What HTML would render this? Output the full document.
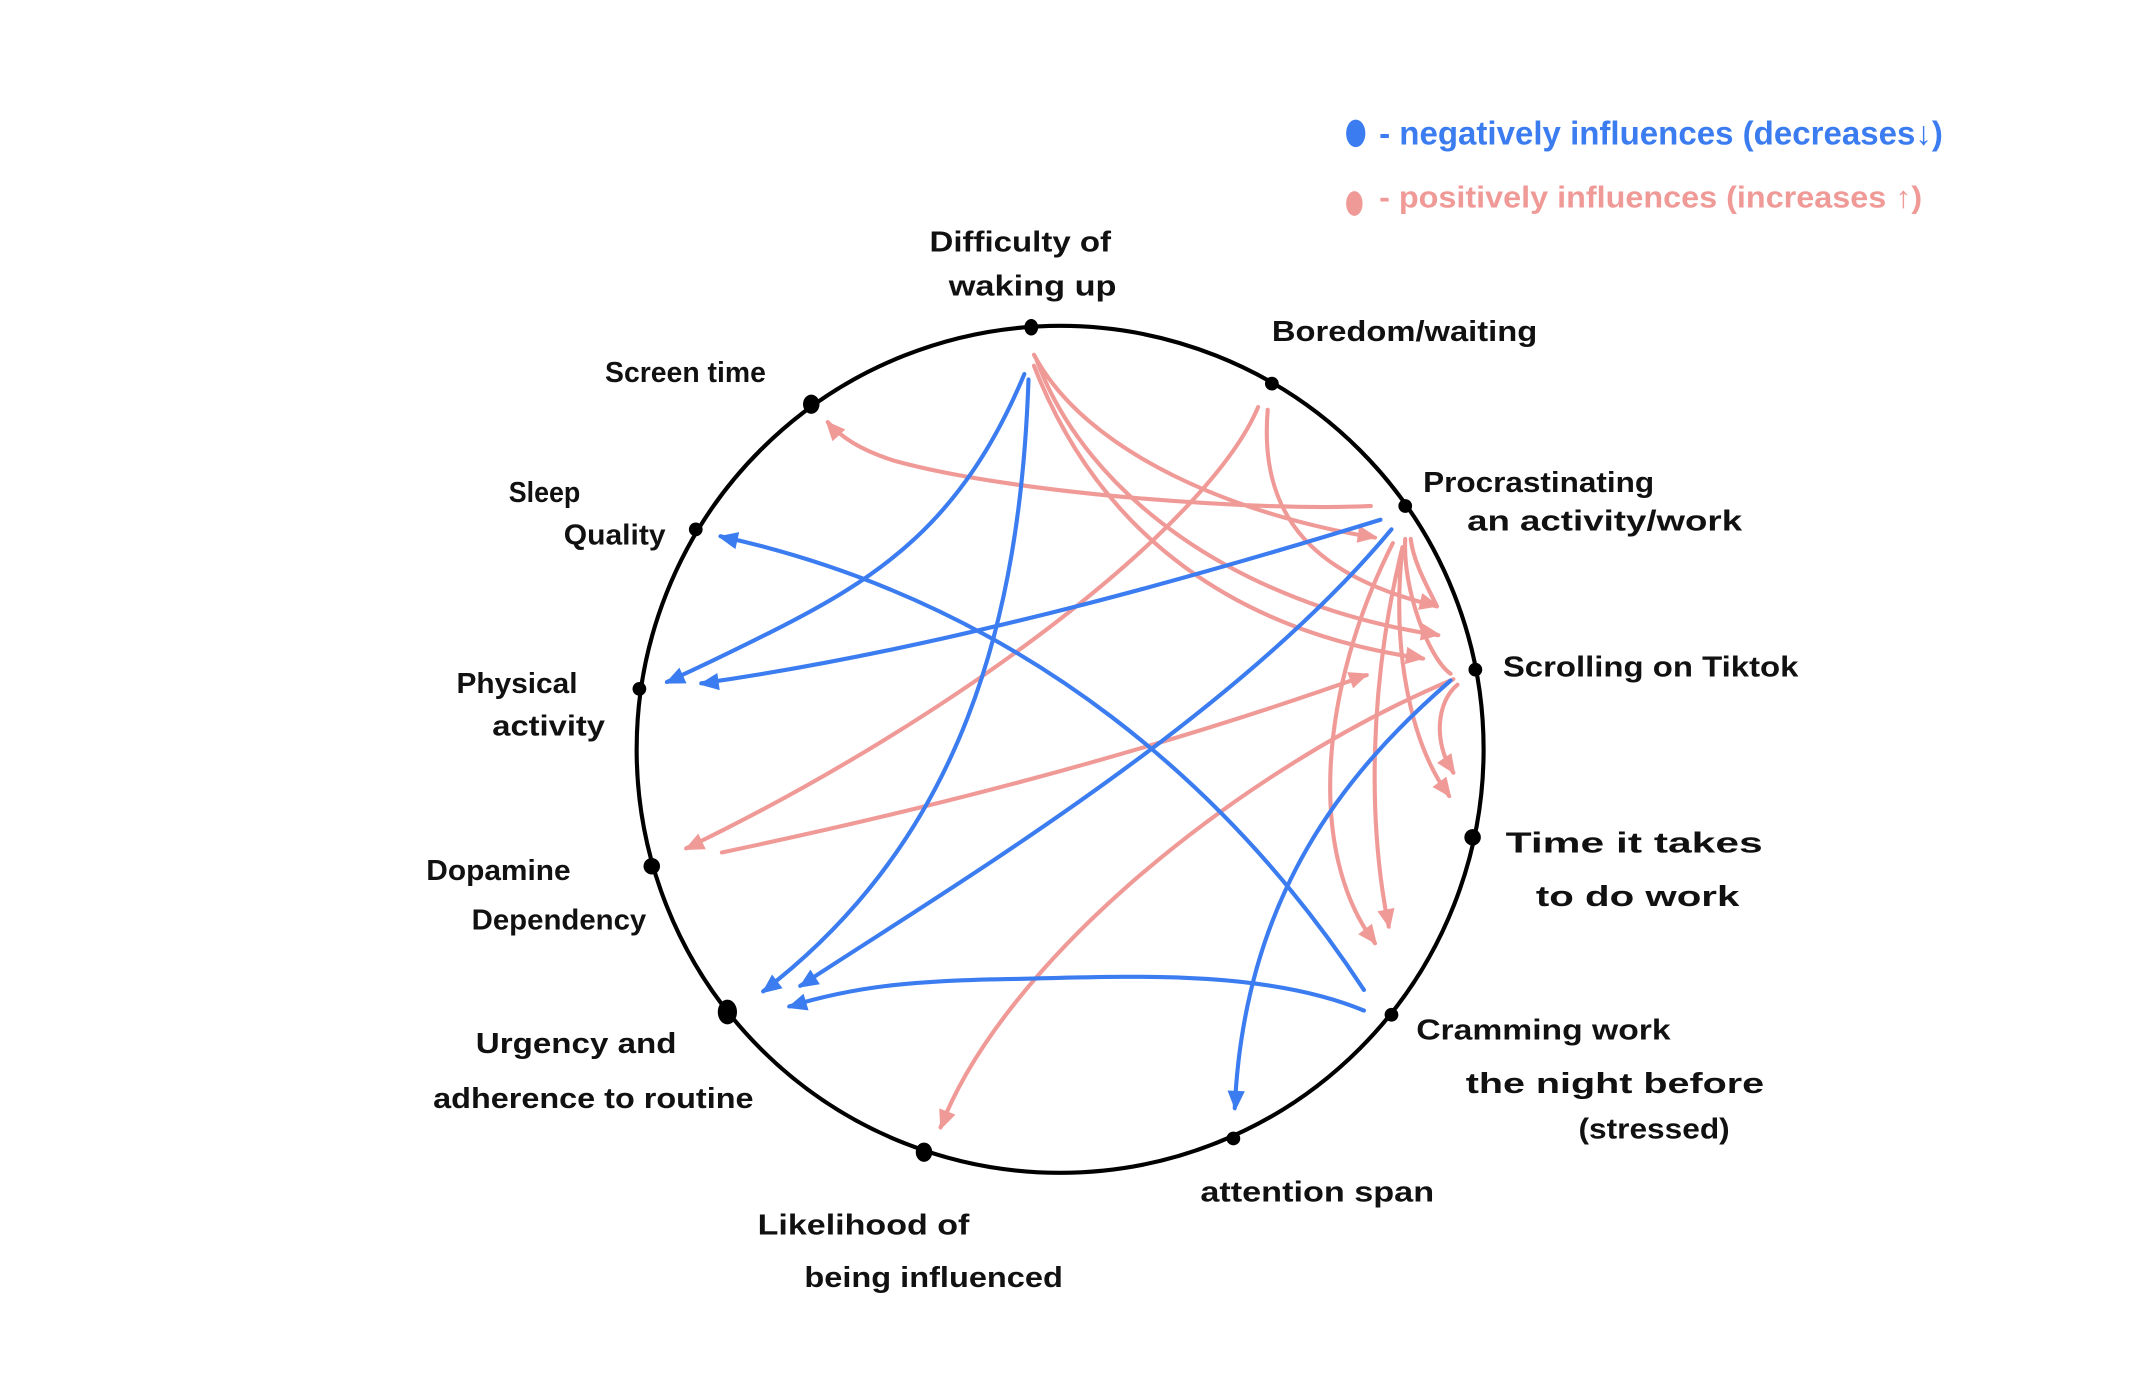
<!DOCTYPE html>
<html><head><meta charset="utf-8"><style>
html,body{margin:0;padding:0;background:#fff;}
svg{display:block;}
text{font-family:"Liberation Sans",sans-serif;font-weight:bold;fill:#111;}
</style></head><body>
<svg width="2156" height="1388" viewBox="0 0 1568 1009.5" xmlns="http://www.w3.org/2000/svg">
<defs>
<marker id="ab" viewBox="0 0 10 10" refX="9" refY="5" markerWidth="10" markerHeight="10" orient="auto" markerUnits="userSpaceOnUse" style="overflow:visible">
<path d="M-4,-2 L12,5 L-4,12 Z" fill="#3b7cf0" transform="scale(0.9)"/></marker>
<marker id="ap" viewBox="0 0 10 10" refX="9" refY="5" markerWidth="10" markerHeight="10" orient="auto" markerUnits="userSpaceOnUse" style="overflow:visible">
<path d="M-4,-2 L12,5 L-4,12 Z" fill="#f09a98" transform="scale(0.9)"/></marker>
</defs>
<circle cx="771" cy="545" r="308" fill="none" stroke="#000" stroke-width="3"/>
<g fill="#000">
<ellipse cx="750" cy="238" rx="5" ry="6"/>
<circle cx="925" cy="279" r="5"/>
<circle cx="1022" cy="368" r="5"/>
<circle cx="1073" cy="487" r="5"/>
<circle cx="1071" cy="609" r="6"/>
<circle cx="1012" cy="738" r="5"/>
<circle cx="897" cy="828" r="5"/>
<ellipse cx="672" cy="838" rx="6" ry="7"/>
<ellipse cx="529" cy="736" rx="7" ry="9"/>
<circle cx="474" cy="630" r="6"/>
<circle cx="465" cy="501" r="5"/>
<circle cx="506" cy="385" r="5"/>
<ellipse cx="590" cy="294" rx="6" ry="7"/>
</g>
<g fill="none" stroke="#f09a98" stroke-width="3" stroke-linecap="round">
<path d="M997,368 C920,372 740,360 650,335 C625,327 612,318 602,307" marker-end="url(#ap)"/>
<path d="M752,258 C790,330 900,375 1000,391" marker-end="url(#ap)"/>
<path d="M754,262 C790,360 900,440 1046,462" marker-end="url(#ap)"/>
<path d="M752,266 C800,390 900,460 1035,479" marker-end="url(#ap)"/>
<path d="M915,296 C880,380 700,520 499,617" marker-end="url(#ap)"/>
<path d="M922,298 C915,380 960,420 1045,441" marker-end="url(#ap)"/>
<path d="M525,620 C620,600 800,560 994,491" marker-end="url(#ap)"/>
<path d="M1057,494 C900,560 730,700 684,820" marker-end="url(#ap)"/>
<path d="M1013,395 C960,500 950,620 1000,686" marker-end="url(#ap)"/>
<path d="M1020,398 C995,500 995,600 1010,674" marker-end="url(#ap)"/>
<path d="M1022,392 C1020,430 1040,480 1055,490"/>
<path d="M1020,398 C1012,470 1025,540 1054,579" marker-end="url(#ap)"/>
<path d="M1060,498 C1045,510 1042,540 1057,562" marker-end="url(#ap)"/>
<path d="M1026,392 C1028,410 1040,430 1045,441"/>
</g>
<g fill="none" stroke="#3b7cf0" stroke-width="3" stroke-linecap="round">
<path d="M745,272 C700,380 640,420 560,460 C530,475 505,487 485,496" marker-end="url(#ab)"/>
<path d="M748,276 C742,450 700,610 555,721" marker-end="url(#ab)"/>
<path d="M1004,378 C900,410 700,470 510,497" marker-end="url(#ab)"/>
<path d="M992,720 C900,580 750,440 524,390" marker-end="url(#ab)"/>
<path d="M1012,385 C900,520 700,640 582,717" marker-end="url(#ab)"/>
<path d="M992,735 C920,705 820,710 740,712 C660,713 620,718 574,732" marker-end="url(#ab)"/>
<path d="M1055,495 C980,560 905,650 898,806" marker-end="url(#ab)"/>
</g>
<g font-size="21">
<text x="676" y="183" textLength="132" lengthAdjust="spacingAndGlyphs">Difficulty of</text>
<text x="690" y="215" textLength="122" lengthAdjust="spacingAndGlyphs">waking up</text>
<text x="925" y="248" textLength="193" lengthAdjust="spacingAndGlyphs">Boredom/waiting</text>
<text x="440" y="278" textLength="117" lengthAdjust="spacingAndGlyphs">Screen time</text>
<text x="370" y="365" textLength="52" lengthAdjust="spacingAndGlyphs">Sleep</text>
<text x="410" y="396" textLength="74" lengthAdjust="spacingAndGlyphs">Quality</text>
<text x="332" y="504" textLength="88" lengthAdjust="spacingAndGlyphs">Physical</text>
<text x="358" y="535" textLength="82" lengthAdjust="spacingAndGlyphs">activity</text>
<text x="310" y="640" textLength="105" lengthAdjust="spacingAndGlyphs">Dopamine</text>
<text x="343" y="676" textLength="127" lengthAdjust="spacingAndGlyphs">Dependency</text>
<text x="346" y="766" textLength="146" lengthAdjust="spacingAndGlyphs">Urgency and</text>
<text x="315" y="806" textLength="233" lengthAdjust="spacingAndGlyphs">adherence to routine</text>
<text x="551" y="898" textLength="154" lengthAdjust="spacingAndGlyphs">Likelihood of</text>
<text x="585" y="936" textLength="188" lengthAdjust="spacingAndGlyphs">being influenced</text>
<text x="873" y="874" textLength="170" lengthAdjust="spacingAndGlyphs">attention span</text>
<text x="1030" y="756" textLength="185" lengthAdjust="spacingAndGlyphs">Cramming work</text>
<text x="1066" y="795" textLength="217" lengthAdjust="spacingAndGlyphs">the night before</text>
<text x="1148" y="828" textLength="110" lengthAdjust="spacingAndGlyphs">(stressed)</text>
<text x="1095" y="620" textLength="187" lengthAdjust="spacingAndGlyphs">Time it takes</text>
<text x="1117" y="659" textLength="148" lengthAdjust="spacingAndGlyphs">to do work</text>
<text x="1093" y="492" textLength="215" lengthAdjust="spacingAndGlyphs">Scrolling on Tiktok</text>
<text x="1035" y="358" textLength="168" lengthAdjust="spacingAndGlyphs">Procrastinating</text>
<text x="1067" y="386" textLength="200" lengthAdjust="spacingAndGlyphs">an activity/work</text>
</g>
<ellipse cx="986" cy="97" rx="7" ry="10" fill="#3b7cf0"/>
<text x="1003" y="105" font-size="24" style="fill:#3b7cf0" textLength="410" lengthAdjust="spacingAndGlyphs">- negatively influences (decreases↓)</text>
<ellipse cx="985" cy="148" rx="6" ry="9" fill="#f09a98"/>
<text x="1003" y="151" font-size="22" style="fill:#f09a98" textLength="395" lengthAdjust="spacingAndGlyphs">- positively influences (increases ↑)</text>
</svg>
</body></html>
